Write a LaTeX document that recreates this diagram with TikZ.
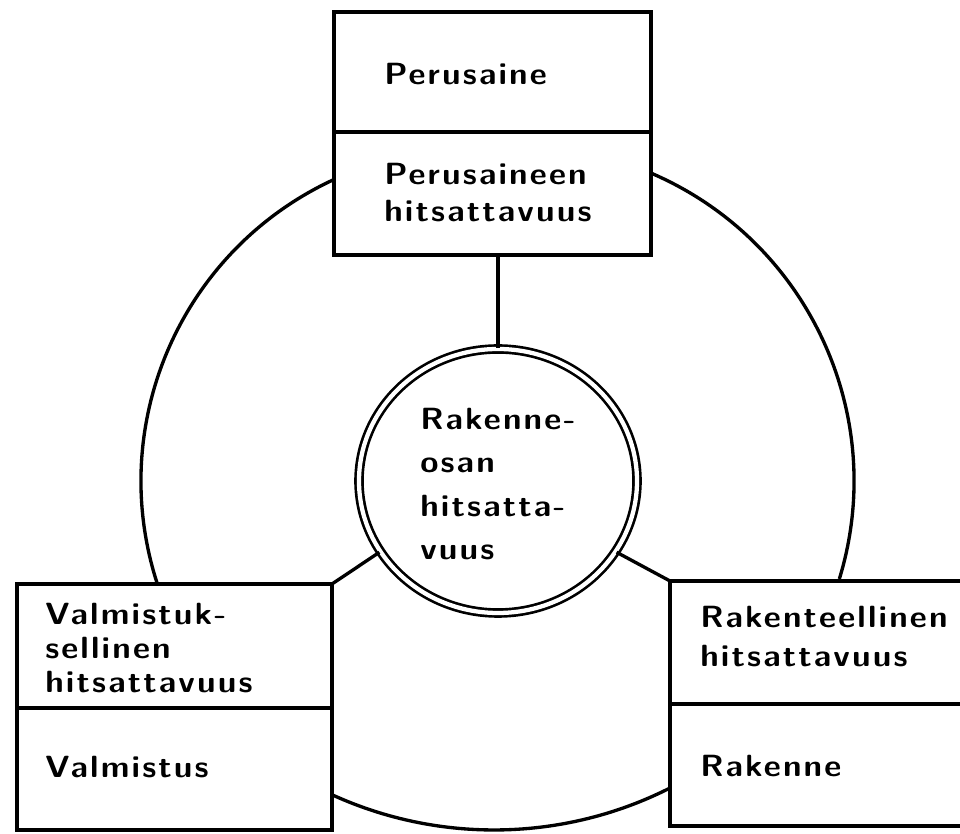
\documentclass[tikz,border=0pt]{standalone}
\usepackage{fontspec}
\setsansfont{lmsans10-regular.otf}[BoldFont=lmsans10-bold.otf, FakeStretch=1.08, LetterSpace=7]
\usetikzlibrary{shapes.geometric,calc}
\begin{document}
\begin{tikzpicture}[x=0.75pt,y=0.75pt,
  line/.style={line width=2.5pt, line join=round},
  part/.style={draw, line width=2.5pt, rectangle, inner sep=0pt, outer sep=0pt, anchor=north west},
  lbl/.style={anchor=base west, inner sep=0pt,
    font=\fontsize{23}{27}\selectfont\sffamily\bfseries},
]
\clip (0,0) rectangle (960,834);
% boxes
\node[part, minimum width=237.75pt, minimum height=90pt] (perus) at (334,822) {};
\node[part, minimum width=237.75pt, minimum height=92.25pt] (perush) at (334,702) {};
\node[part, minimum width=236.25pt, minimum height=93pt] (valmh) at (17,250) {};
\node[part, minimum width=236.25pt, minimum height=91.5pt] (valm) at (17,126) {};
\node[part, minimum width=240pt, minimum height=92.25pt] (rakh) at (670,253) {};
\node[part, minimum width=240pt, minimum height=91.5pt] (rak) at (670,130) {};
% central double circle
\node[draw, ellipse, line width=2pt, double, double distance=3.2pt,
      minimum width=208.5pt, minimum height=198pt, inner sep=0pt] (core) at (498,353) {};
% connectors
\draw[line] (core.north) -- (core.north |- perush.south);
\draw[line] (core.211) -- (valmh.north east);
\draw[line] (core.329) -- (rakh.north west);
% ring arcs
\coordinate (ctl) at (473,353);
\coordinate (ctr) at (519,353);
\coordinate (cb) at (494,394);
\draw[line] ($(ctl)+(115:332)$) arc[start angle=115,end angle=198,radius=332];
\draw[line] ($(ctr)+(67:335)$) arc[start angle=67,end angle=-17,radius=335];
\draw[line] ($(cb)+(245.5:390)$) arc[start angle=245.5,end angle=296.8,radius=390];
% texts
\node[lbl] (t1) at (384,749) {Perusaine};
\node[lbl] (t2) at (384,649) {Perusaineen};
\node[lbl] (t3) at (384,612) {hitsattavuus};
\node[lbl] (l1) at (45,209) {Valmistuk-};
\node[lbl] (l2) at (45,175) {sellinen};
\node[lbl] (l3) at (45,141) {hitsattavuus};
\node[lbl] (l4) at (45,56) {Valmistus};
\node[lbl] (r1) at (700,206) {Rakenteellinen};
\node[lbl] (r2) at (700,167) {hitsattavuus};
\node[lbl] (r3) at (700,57) {Rakenne};
\node[lbl] (c1) at (420,404) {Rakenne-};
\node[lbl] (c2) at (420,361) {osan};
\node[lbl] (c3) at (420,317) {hitsatta-};
\node[lbl] (c4) at (420,274) {vuus};
\end{tikzpicture}
\end{document}
